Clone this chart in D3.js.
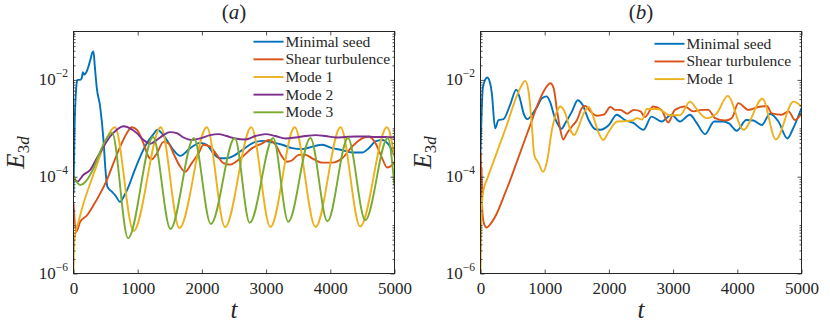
<!DOCTYPE html>
<html>
<head>
<meta charset="utf-8">
<script src="https://cdn.jsdelivr.net/npm/d3@7"></script>
<style>
  body { margin: 0; background: #fff; }
  svg text { font-family: "Liberation Serif", "Times New Roman", "DejaVu Serif", serif; fill: #262626; }
</style>
</head>
<body>
<svg id="chart" width="830" height="323" font-family="Liberation Serif"></svg>
<script>
// axis ticks
const xTicks = [0, 1000, 2000, 3000, 4000, 5000];
const yTicks = [1e-6, 1e-4, 1e-2];

// legend entries and colours
const namesA = ["Minimal seed", "Shear turbulence", "Mode 1", "Mode 2", "Mode 3"];
const namesB = ["Minimal seed", "Shear turbulence", "Mode 1"];
const colors = ["#0072BD", "#D95319", "#EDB120", "#7E2F8E", "#77AC30"];

// panel (a)
const seedA_t = [0,16,42,62,104,130,145,166,208,234,270,291,311,332,363,415,467,498,529,597,649,727,779,856,934,1038,1142,1246,1308,1375,1453,1557,1661,1817,1972,2076,2180,2284,2387,2520,2628,2783,2939,3095,3250,3406,3562,3718,3873,4029,4185,4340,4496,4600,4704,4808,4911,5000];
const seedA_E = [4.47e-5,9.33e-4,6.76e-3,1.0e-2,1.0e-2,1.10e-2,1.45e-2,1.29e-2,1.51e-2,1.91e-2,2.82e-2,3.63e-2,3.89e-2,1.91e-2,6.76e-3,2.82e-3,5.75e-4,1.38e-4,6.17e-5,4.90e-5,4.17e-5,3.02e-5,3.80e-5,6.17e-5,1.17e-4,2.57e-4,4.90e-4,7.59e-4,9.33e-4,7.94e-4,5.75e-4,3.55e-4,2.69e-4,3.89e-4,5.01e-4,4.57e-4,3.02e-4,2.40e-4,2.40e-4,2.82e-4,3.55e-4,4.90e-4,5.50e-4,5.13e-4,4.57e-4,3.89e-4,3.72e-4,4.17e-4,4.57e-4,3.89e-4,3.55e-4,3.16e-4,3.16e-4,3.89e-4,5.37e-4,5.75e-4,4.57e-4,2.82e-4];

const shearA_t = [0,42,104,208,311,415,519,623,727,830,908,986,1090,1168,1220,1298,1401,1479,1557,1661,1739,1842,1946,2024,2128,2232,2335,2439,2628,2783,2939,3043,3147,3250,3328,3406,3510,3614,3718,3873,4029,4185,4340,4496,4600,4704,4808,4885,4963,5000];
const shearA_E = [2.82e-5,7.24e-6,1.17e-5,1.58e-5,2.57e-5,4.47e-5,8.51e-5,1.91e-4,4.17e-4,7.94e-4,1.05e-3,9.33e-4,4.90e-4,2.57e-4,2.29e-4,3.02e-4,5.25e-4,4.90e-4,3.02e-4,1.62e-4,1.26e-4,1.91e-4,3.02e-4,4.57e-4,4.17e-4,2.82e-4,1.91e-4,1.78e-4,2.57e-4,3.89e-4,4.90e-4,5.75e-4,4.57e-4,2.57e-4,2.04e-4,2.19e-4,2.82e-4,2.82e-4,2.40e-4,1.95e-4,1.95e-4,2.40e-4,4.17e-4,6.17e-4,6.76e-4,4.90e-4,2.40e-4,1.55e-4,1.74e-4,2.0e-4];

const mode1A_t = [0,8,26,78,156,260,363,467,571,645,935,1360,1650,2077,2360,2770,3067,3445,3770,4160,4465,4883,5000];
const mode1A_E = [1e-6,3.98e-6,6.31e-6,1.17e-5,2.82e-5,7.24e-5,1.74e-4,4.17e-4,8.51e-4,1.05e-3,7.59e-6,1.05e-3,8.71e-6,1.05e-3,9.12e-6,1.05e-3,9.12e-6,1.05e-3,9.12e-6,1.05e-3,9.33e-6,1.05e-3,2.51e-4];

const mode2A_t = [0,60,156,260,363,467,571,675,779,882,986,1090,1194,1298,1401,1505,1609,1713,1842,1972,2128,2258,2387,2517,2680,2835,2991,3147,3302,3458,3614,3770,3925,4081,4237,4392,4548,4704,4860,5000];
const mode2A_E = [1.0e-4,7.94e-5,1.10e-4,1.38e-4,2.40e-4,4.17e-4,6.76e-4,9.33e-4,1.10e-3,1.0e-3,7.94e-4,5.75e-4,4.79e-4,5.75e-4,7.24e-4,8.32e-4,7.94e-4,6.46e-4,5.75e-4,6.17e-4,7.24e-4,7.59e-4,6.92e-4,6.17e-4,5.89e-4,6.92e-4,7.59e-4,6.92e-4,6.17e-4,6.46e-4,6.92e-4,7.24e-4,6.92e-4,6.46e-4,6.61e-4,6.76e-4,6.76e-4,6.61e-4,6.61e-4,6.46e-4];

const mode3A_t = [0,104,208,311,415,519,600,850,1240,1510,1875,2140,2512,2745,3110,3345,3690,3955,4275,4545,4895,5000];
const mode3A_E = [1.0e-4,6.76e-5,8.51e-5,1.48e-4,3.31e-4,6.31e-4,8.13e-4,5.37e-6,6.61e-4,8.32e-6,6.31e-4,1.05e-5,6.31e-4,1.12e-5,6.31e-4,1.17e-5,6.31e-4,1.20e-5,6.31e-4,1.26e-5,6.31e-4,6.31e-5];

// panel (b)
const seedB_t = [0,36,72,105,150,176,228,280,358,463,557,619,671,733,801,879,957,1030,1082,1160,1264,1322,1426,1514,1587,1685,1789,1866,2000,2122,2250,2380,2540,2664,2820,2976,3106,3262,3367,3497,3640,3780,3870,3991,4140,4250,4381,4510,4641,4780,4860,5000];
const seedB_E = [3.09e-4,6.76e-3,1.0e-2,1.12e-2,8.51e-3,5.37e-3,1.0e-3,1.48e-3,1.55e-3,3.09e-3,6.31e-3,3.89e-3,2.04e-3,1.55e-3,1.91e-3,2.75e-3,4.17e-3,4.57e-3,3.55e-3,1.62e-3,9.77e-4,1.29e-3,2.24e-3,3.80e-3,3.09e-3,1.48e-3,9.55e-4,9.33e-4,1.17e-3,1.91e-3,1.48e-3,1.29e-3,9.33e-4,1.74e-3,1.38e-3,1.91e-3,1.38e-3,1.91e-3,1.29e-3,7.59e-4,1.38e-3,1.38e-3,1.26e-3,8.91e-4,1.48e-3,1.45e-3,1.17e-3,2.0e-3,1.38e-3,6.17e-4,9.33e-4,2.63e-3];

const shearB_t = [0,6,12,18,25,50,95,176,254,359,463,567,671,775,879,983,1087,1139,1191,1243,1290,1347,1426,1503,1581,1633,1711,1815,1919,2023,2101,2180,2284,2388,2492,2560,2690,2820,2924,3028,3184,3315,3445,3549,3653,3809,3913,4017,4173,4329,4459,4537,4693,4797,4901,5000];
const shearB_E = [3.98e-5,3.16e-4,3.16e-5,1.58e-4,2.51e-5,1.12e-5,8.91e-6,1.15e-5,1.74e-5,3.80e-5,8.51e-5,2.04e-4,4.90e-4,1.17e-3,2.82e-3,5.75e-3,8.51e-3,6.76e-3,2.40e-3,9.33e-4,5.89e-4,7.94e-4,1.10e-3,1.48e-3,2.63e-3,2.88e-3,2.24e-3,1.82e-3,1.91e-3,2.75e-3,2.40e-3,2.40e-3,2.0e-3,2.40e-3,2.24e-3,1.70e-3,2.82e-3,2.40e-3,1.32e-3,2.40e-3,2.82e-3,2.24e-3,2.40e-3,2.40e-3,1.62e-3,1.45e-3,1.62e-3,3.31e-3,2.40e-3,2.75e-3,2.88e-3,2.04e-3,1.91e-3,2.24e-3,1.48e-3,2.04e-3];

const mode1B_t = [0,8,20,46,98,202,306,411,515,619,697,749,801,837,905,973,1035,1113,1191,1243,1321,1399,1462,1530,1608,1686,1764,1842,1910,1998,2128,2258,2362,2440,2518,2590,2760,2950,3110,3262,3393,3523,3680,3850,4095,4392,4600,4875,5000];
const mode1B_E = [1e-6,5.01e-6,2.40e-5,5.25e-5,8.51e-5,2.04e-4,4.90e-4,1.17e-3,3.09e-3,6.76e-3,9.55e-3,5.75e-3,1.10e-3,2.82e-4,1.91e-4,1.26e-4,2.04e-4,9.33e-4,2.24e-3,2.82e-3,2.04e-3,9.33e-4,7.24e-4,1.10e-3,2.04e-3,2.75e-3,1.62e-3,7.94e-4,5.75e-4,8.51e-4,1.38e-3,1.41e-3,1.45e-3,1.62e-3,1.51e-3,2.51e-3,2.51e-3,1.86e-3,1.86e-3,3.55e-3,2.24e-3,1.62e-3,2.04e-3,4.68e-3,9.33e-4,4.07e-3,5.89e-4,3.55e-3,2.82e-3];

const svg = d3.select("#chart");
const axisColor = "#262626";
const serif = "Liberation Serif";
const top_ = 31.5, bottom = 273.5, plotW = 321;

function drawPanel(id, left, label, names, series, legendPos) {
    const x = d3.scaleLinear().domain([0, 5000]).range([left, left + plotW]);
    const y = d3.scaleLog().domain([1e-6, 1e-1]).range([bottom, top_]);

    svg.append("clipPath").attr("id", "clip" + id)
      .append("rect")
        .attr("x", left).attr("y", top_)
        .attr("width", plotW).attr("height", bottom - top_);

    const line = d3.line()
        .x(d => x(d[0]))
        .y(d => y(d[1]))
        .curve(d3.curveMonotoneX);

    const lines = svg.append("g").attr("clip-path", `url(#clip${id})`);
    series.forEach((s, i) => {
        lines.append("path")
            .datum(d3.zip(s[0], s[1]))
            .attr("d", line)
            .attr("fill", "none")
            .attr("stroke", colors[i])
            .attr("stroke-width", 1.9)
            .attr("stroke-linejoin", "round");
    });

    // minor ticks on the log axis
    const minor = [];
    for (let k = -6; k <= -2; k++) {
        for (let n = 1; n <= 9; n++) {
            const v = n * Math.pow(10, k);
            if (!yTicks.some(t => Math.abs(t - v) / v < 1e-9)) minor.push(v);
        }
    }

    const styleAxis = g => {
        g.attr("font-family", serif).attr("font-size", 17);
        g.select(".domain").remove();
        g.selectAll(".tick line").attr("stroke", axisColor).attr("stroke-width", 0.8);
        g.selectAll("text").attr("fill", axisColor);
    };

    svg.append("g").attr("transform", `translate(0,${bottom})`)
        .call(d3.axisBottom(x).tickValues(xTicks).tickSize(-4).tickSizeOuter(0).tickPadding(8).tickFormat(d3.format("d")))
        .call(styleAxis);
    svg.append("g").attr("transform", `translate(0,${top_})`)
        .call(d3.axisTop(x).tickValues(xTicks).tickSize(-4).tickSizeOuter(0).tickFormat(""))
        .call(styleAxis);
    svg.append("g").attr("transform", `translate(${left},0)`)
        .call(d3.axisLeft(y).tickValues(yTicks).tickSize(-4).tickSizeOuter(0).tickFormat(""))
        .call(styleAxis);
    svg.append("g").attr("transform", `translate(${left},0)`)
        .call(d3.axisLeft(y).tickValues(minor).tickSize(-2).tickSizeOuter(0).tickFormat(""))
        .call(styleAxis);
    svg.append("g").attr("transform", `translate(${left + plotW},0)`)
        .call(d3.axisRight(y).tickValues(yTicks).tickSize(-4).tickSizeOuter(0).tickFormat(""))
        .call(styleAxis);
    svg.append("g").attr("transform", `translate(${left + plotW},0)`)
        .call(d3.axisRight(y).tickValues(minor).tickSize(-2).tickSizeOuter(0).tickFormat(""))
        .call(styleAxis);

    // y tick labels 10^k
    yTicks.forEach(d => {
        const t = svg.append("text")
            .attr("x", left - 5.5)
            .attr("y", y(d) + 5.5)
            .attr("text-anchor", "end")
            .attr("font-family", serif)
            .attr("font-size", 17);
        t.append("tspan").text("10");
        t.append("tspan")
            .attr("dy", -8)
            .attr("font-size", 11.5)
            .text("\u2212" + Math.abs(Math.round(Math.log10(d))));
    });

    // box
    svg.append("rect")
        .attr("x", left).attr("y", top_)
        .attr("width", plotW).attr("height", bottom - top_)
        .attr("fill", "none")
        .attr("stroke", axisColor)
        .attr("stroke-width", 1);

    // title
    const title = svg.append("text")
        .attr("x", left + plotW / 2)
        .attr("y", 19)
        .attr("text-anchor", "middle")
        .attr("font-family", serif)
        .attr("font-size", 21);
    title.append("tspan").text("(");
    title.append("tspan").attr("font-style", "italic").text(label);
    title.append("tspan").text(")");

    // x label
    svg.append("text")
        .attr("x", left + plotW / 2)
        .attr("y", 318)
        .attr("text-anchor", "middle")
        .attr("font-family", serif)
        .attr("font-size", 25)
        .attr("font-style", "italic")
        .text("t");

    // y label
    const yl = svg.append("text")
        .attr("transform", `translate(${left - 49.5},${(top_ + bottom) / 2}) rotate(-90)`)
        .attr("text-anchor", "middle")
        .attr("font-family", serif)
        .attr("font-size", 25);
    yl.append("tspan").attr("font-style", "italic").text("E");
    yl.append("tspan").attr("dy", 5).attr("font-size", 17).text("3");
    yl.append("tspan").attr("font-size", 17).attr("font-style", "italic").text("d");

    // legend
    const lg = svg.append("g");
    names.forEach((n, i) => {
        const yy = legendPos.y + i * 17.65;
        lg.append("line")
            .attr("x1", legendPos.x).attr("x2", legendPos.x + 30)
            .attr("y1", yy).attr("y2", yy)
            .attr("stroke", colors[i])
            .attr("stroke-width", 1.9);
        lg.append("text")
            .attr("x", legendPos.x + 32)
            .attr("y", yy + 5)
            .attr("font-family", serif)
            .attr("font-size", 15.5)
            .text(n);
    });
}

drawPanel("a", 73.5, "a", namesA, [
    [seedA_t, seedA_E],
    [shearA_t, shearA_E],
    [mode1A_t, mode1A_E],
    [mode2A_t, mode2A_E],
    [mode3A_t, mode3A_E]
], {x: 253.5, y: 41.7});

drawPanel("b", 480.5, "b", namesB, [
    [seedB_t, seedB_E],
    [shearB_t, shearB_E],
    [mode1B_t, mode1B_E]
], {x: 654.5, y: 43.8});
</script>
</body>
</html>
